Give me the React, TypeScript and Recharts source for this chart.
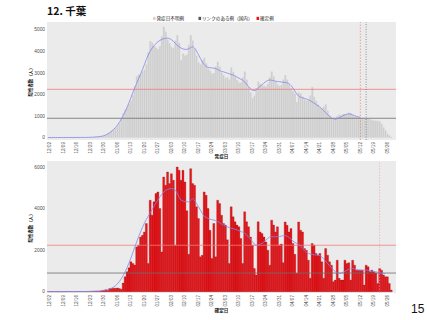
import { ComposedChart, Bar, Line, XAxis, YAxis, CartesianGrid, ReferenceLine } from 'recharts';

const monthDays: [number, number][] = [[12, 31], [1, 31], [2, 28], [3, 31], [4, 30], [5, 30]];
const dates: string[] = [];
monthDays.forEach(([m, n]) => {
  for (let d = 1; d <= n; d++) dates.push(`${String(m).padStart(2, '0')}/${String(d).padStart(2, '0')}`);
});

const weekTicks = [
  '12/02', '12/09', '12/16', '12/23', '12/30', '01/06', '01/13', '01/20', '01/27',
  '02/03', '02/10', '02/17', '02/24', '03/03', '03/10', '03/17', '03/24', '03/31',
  '04/07', '04/14', '04/21', '04/28', '05/05', '05/12', '05/19', '05/26',
];

// 発症日 (onset date) counts
const onsetBars = [
  8, 6, 9, 12, 14, 10, 7,
  9, 8, 11, 12, 15, 13, 9,
  10, 9, 12, 14, 18, 15, 13,
  17, 19, 24, 31, 46, 55, 58,
  70, 88, 125, 185, 265, 330, 390,
  460, 540, 670, 890, 1150, 1290, 1410,
  1570, 1720, 1960, 2380, 2850, 2920, 2940,
  3050, 3150, 3400, 3950, 4480, 4400, 4250,
  4180, 4100, 4250, 4700, 5140, 4900, 4560,
  4380, 4200, 4150, 4500, 4750, 4400, 3600,
  3900, 3800, 3850, 4300, 4750, 4500, 4100,
  3800, 3500, 3400, 3600, 3700, 3450, 3200,
  3100, 2980, 3000, 3300, 3520, 3300, 3020,
  2900, 2780, 2800, 2700, 3250, 3050, 2830,
  2680, 2550, 2560, 2800, 3060, 2700, 2350,
  2100, 1840, 1950, 2300, 2600, 2500, 2420,
  2400, 2380, 2500, 2800, 3060, 2850, 2600,
  2480, 2400, 2450, 2700, 2900, 2700, 2450,
  2300, 2150, 2050, 1650, 2100, 2050, 1900,
  1780, 1700, 1750, 1950, 2350, 1900, 1700,
  1550, 1400, 1350, 1450, 1550, 1250, 1050,
  920, 850, 870, 1000, 1080, 1050, 1100,
  1100, 1080, 1170, 1150, 1050, 980, 960,
  950, 930, 920, 900, 900, 880, 870,
  820, 800, 800, 780, 760, 650, 480,
  350, 200, 110, 50, 0, 0,
];

const onsetAvg = [
  8, 8, 9, 9, 10, 10, 10,
  10, 10, 11, 11, 12, 12, 12,
  12, 13, 13, 14, 14, 15, 15,
  18, 20, 25, 30, 37, 45, 55,
  70, 95, 130, 175, 230, 300, 380,
  470, 580, 710, 860, 1020, 1200, 1400,
  1620, 1850, 2080, 2300, 2520, 2730, 2940,
  3150, 3380, 3620, 3830, 4000, 4140, 4260,
  4360, 4440, 4500, 4550, 4580, 4600, 4610,
  4590, 4540, 4460, 4370, 4280, 4210, 4150,
  4110, 4090, 4090, 4120, 4170, 4210, 4150,
  4020, 3850, 3680, 3520, 3390, 3300, 3260,
  3240, 3230, 3220, 3200, 3160, 3110, 3070,
  3050, 3020, 2990, 2960, 2930, 2900, 2860,
  2810, 2760, 2710, 2660, 2580, 2480, 2370,
  2270, 2200, 2180, 2220, 2300, 2380, 2450,
  2530, 2600, 2650, 2670, 2660, 2640, 2620,
  2600, 2590, 2580, 2570, 2560, 2540, 2500,
  2420, 2300, 2160, 2030, 1930, 1880, 1850,
  1820, 1790, 1760, 1720, 1660, 1600, 1540,
  1480, 1420, 1340, 1250, 1160, 1070, 990,
  920, 870, 860, 880, 920, 970, 1020,
  1060, 1090, 1100, 1090, 1060, 1020, 990,
  960, 950, null, null, null, null, null,
  null, null, null, null, null, null, null,
  null, null, null, null, null, null,
];

// 確定日 (confirmed date) counts
const confirmedBars = [
  4, 6, 5, 7, 8, 6, 3,
  6, 8, 7, 9, 10, 7, 4,
  8, 10, 12, 11, 13, 9, 5,
  12, 16, 20, 22, 28, 25, 35,
  50, 70, 95, 60, 150, 160, 170,
  165, 180, 150, 120, 420, 720, 960,
  1150, 1445, 1365, 1285, 2160, 2240, 2640,
  2720, 2880, 3290, 1365, 4410, 3690, 4330,
  4730, 4810, 4010, 1920, 5530, 5130, 5770,
  5210, 5690, 5370, 2240, 6010, 5850, 5370,
  5850, 5290, 3900, 1800, 5930, 5210, 5130,
  4090, 3530, 1680, 1760, 4810, 4650, 4010,
  2960, 1600, 3290, 1680, 4410, 4250, 3690,
  3290, 3210, 2500, 1365, 4090, 3610, 3370,
  3210, 3130, 2560, 1365, 3850, 3370, 3130,
  2640, 2240, 1120, 800, 3370, 2880, 2800,
  2640, 2400, 2000, 1280, 3450, 3210, 2880,
  3130, 2245, 2300, 1400, 3365, 3200, 2880,
  3045, 2325, 1800, 885, 3365, 2965, 2880,
  2085, 2000, 1520, 645, 2325, 2245, 1845,
  1760, 1845, 1440, 645, 2085, 1760, 1440,
  1280, 480, 560, 1520, 645, 560, 560,
  1520, 1360, 1400, 560, 1520, 1280, 1040,
  1040, 1040, 1040, 320, 1280, 1200, 960,
  1040, 960, 900, 400, 1120, 1040, 800,
  720, 720, 400, 80, 0, 0,
];

const confirmedAvg = [
  5, 5, 5, 6, 6, 6, 6,
  7, 7, 7, 7, 8, 8, 8,
  8, 9, 9, 9, 10, 10, 10,
  12, 14, 16, 19, 22, 26, 30,
  40, 55, 75, 100, 130, 170, 220,
  290, 380, 490, 620, 780, 960, 1160,
  1380, 1620, 1880, 2140, 2400, 2650, 2880,
  3100, 3300, 3480, 3640, 3800, 3960, 4120,
  4280, 4430, 4570, 4690, 4800, 4880, 4930,
  4960, 4970, 4960, 4900, 4750, 4550, 4420,
  4370, 4350, 4340, 4330, 4400, 4480, 4420,
  4250, 4100, 3950, 3780, 3640, 3580, 3540,
  3500, 3470, 3450, 3420, 3380, 3330, 3260,
  3210, 3170, 3130, 3090, 3060, 3040, 3010,
  2980, 2940, 2900, 2870, 2820, 2740, 2640,
  2540, 2420, 2300, 2240, 2250, 2290, 2330,
  2400, 2480, 2570, 2640, 2650, 2650, 2650,
  2650, 2660, 2680, 2700, 2700, 2680, 2620,
  2540, 2450, 2380, 2330, 2290, 2200, 2100,
  1990, 1900, 1850, 1820, 1800, 1780, 1770,
  1760, 1740, 1680, 1580, 1470, 1360, 1260,
  1160, 1060, 970, 900, 880, 900, 940,
  980, 1030, 1080, 1110, 1120, 1100, 1070,
  1050, 1040, 1040, 1040, 1040, 1030, 1010,
  990, 970, 960, 940, 920, 900, 880,
  870, null, null, null, null, null,
];

const upperLevel = 2240;
const lowerLevel = 900;

const onsetData = dates.map((d, i) => ({ d, bar: onsetBars[i], avg: onsetAvg[i] }));
const confirmedData = dates.map((d, i) => ({ d, bar: confirmedBars[i], avg: confirmedAvg[i] }));

const FONT = '"Liberation Sans", Arial, "Noto Sans CJK JP", sans-serif';
const JP = '"Noto Sans CJK JP", sans-serif';

const DateTick = ({ x, y, payload }: any) => (
  <text
    x={x}
    y={y}
    transform={`rotate(-90 ${x} ${y})`}
    textAnchor="end"
    dominantBaseline="central"
    fontSize={4.6}
    fill="#4d4d4d"
    fontFamily={FONT}
  >
    {payload.value}
  </text>
);

const yTick = { fontSize: 4.8, fill: '#4d4d4d', fontFamily: FONT };

const Panel = ({ data, ticks, domain, fill, stroke, top }: any) => (
  <div style={{ position: 'absolute', left: 0, top }}>
    <ComposedChart
      width={427}
      height={160}
      data={data}
      margin={{ top: top === 0 ? 22 : 6, right: 31, left: 27, bottom: top === 0 ? 5 : 7 }}
      barCategoryGap={top === 0 ? '6%' : 0}
    >
      <CartesianGrid fill="#ebebeb" stroke="none" horizontal={false} vertical={false} />
      <XAxis
        dataKey="d"
        ticks={weekTicks}
        interval={0}
        tick={<DateTick />}
        tickLine={false}
        axisLine={false}
        tickSize={2}
        tickMargin={0}
        height={15}
      />
      <YAxis
        width={20}
        domain={domain}
        allowDataOverflow
        ticks={ticks}
        tick={yTick}
        tickLine={false}
        axisLine={false}
        tickSize={0}
        tickMargin={2}
      />
      <Bar dataKey="bar" fill={fill} stroke={stroke} strokeWidth={0.25} isAnimationActive={false} />
      <ReferenceLine y={upperLevel} stroke="#f07b7b" strokeWidth={0.8} />
      <ReferenceLine y={lowerLevel} stroke="#6e6e6e" strokeWidth={0.8} />
      <Line
        dataKey="avg"
        type="monotone"
        stroke="#8585ee"
        strokeWidth={0.8}
        dot={false}
        connectNulls={false}
        isAnimationActive={false}
      />
      {top === 0 ? (
        <>
          <ReferenceLine x="05/12" stroke="#f06a6a" strokeWidth={0.6} strokeDasharray="1.5 1.5" />
          <ReferenceLine x="05/15" stroke="#3f6262" strokeWidth={0.6} strokeDasharray="1 1.5" />
        </>
      ) : (
        <ReferenceLine x="05/22" stroke="#f0a0a0" strokeWidth={0.6} strokeDasharray="1.5 1.5" />
      )}
    </ComposedChart>
  </div>
);

export default function App() {
  return (
    <div style={{ position: 'absolute', left: 0, top: 0, width: 427, height: 320, background: '#fff' }}>
      <Panel data={onsetData} ticks={[0, 1000, 2000, 3000, 4000, 5000]} domain={[-105, 5355]} fill="#cdcdcd" stroke="#f0f0f0" top={0} />
      <Panel data={confirmedData} ticks={[0, 2000, 4000, 6000]} domain={[-62, 6300]} fill="#e8161c" stroke="#8a0a0a" top={155} />
      <svg width={427} height={320} style={{ position: 'absolute', left: 0, top: 0, pointerEvents: 'none' }}>
        <text x={47} y={15} fontSize={10.5} fontWeight="bold" fontFamily={JP} fill="#111">12. 千葉</text>
        <rect x={153} y={16.8} width={2.6} height={3.2} fill="#d5d5d5" />
        <text x={156.5} y={20} fontSize={4.6} fontFamily={JP} fill="#222">発症日不明例</text>
        <rect x={198.5} y={16.8} width={2.6} height={3.2} fill="#555" />
        <text x={202} y={20} fontSize={4.6} fontFamily={JP} fill="#222">リンクのある例（国内）</text>
        <rect x={256.5} y={16.8} width={2.6} height={3.2} fill="#e8161c" />
        <text x={260} y={20} fontSize={4.6} fontFamily={JP} fill="#222">確定例</text>
        <text x={221.5} y={157.5} fontSize={4.6} fontWeight="bold" textAnchor="middle" fontFamily={JP} fill="#222">発症日</text>
        <text x={221.5} y={311.5} fontSize={4.6} fontWeight="bold" textAnchor="middle" fontFamily={JP} fill="#222">確定日</text>
        <text x={31.5} y={81} fontSize={4.4} fontWeight="bold" textAnchor="middle" transform="rotate(-90 31.5 81)" fontFamily={JP} fill="#222">陽性者数（人）</text>
        <text x={31.5} y={227} fontSize={4.4} fontWeight="bold" textAnchor="middle" transform="rotate(-90 31.5 227)" fontFamily={JP} fill="#222">陽性者数（人）</text>
        <text x={411} y={313} fontSize={12} fontFamily={FONT} fill="#111">15</text>
      </svg>
    </div>
  );
}
